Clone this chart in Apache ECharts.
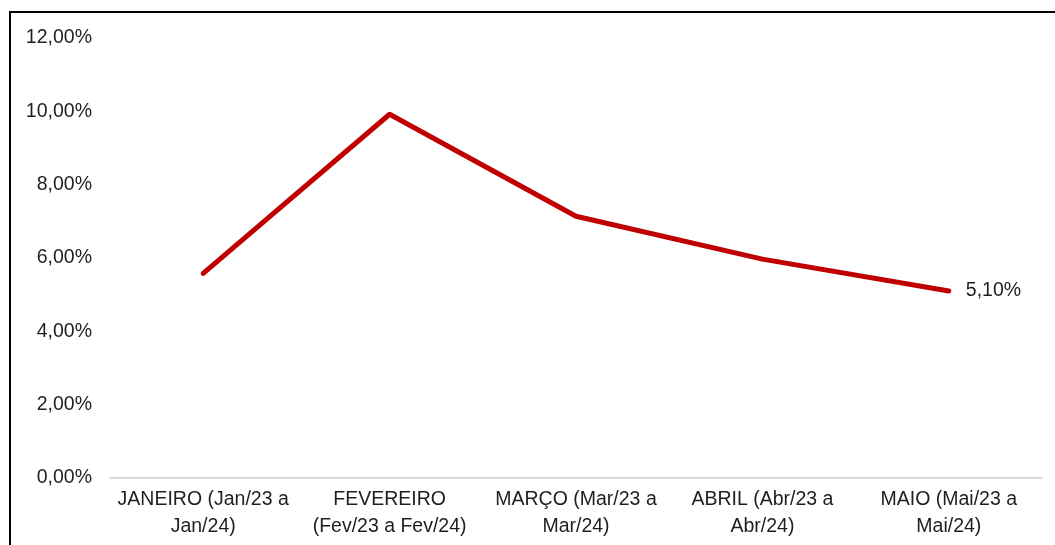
<!DOCTYPE html>
<html>
<head>
<meta charset="utf-8">
<script src="https://cdn.jsdelivr.net/npm/echarts@6/dist/echarts.min.js"></script>
<style>
  html, body { margin: 0; padding: 0; background: #fff; }
  #wrap { position: relative; width: 1055px; height: 545px; overflow: hidden; }
  #chart { position: absolute; left: 0; top: 0; width: 1055px; height: 545px; }
  #frame { position: absolute; left: 9px; top: 11px; width: 1100px; height: 600px;
           border: 2px solid #000; pointer-events: none; box-sizing: border-box; }
</style>
</head>
<body>
<div id="wrap">
  <div id="chart"></div>
  <div id="frame"></div>
</div>
<script>
// Monthly 12-month accumulated rate
const categories = [
  'JANEIRO (Jan/23 a\nJan/24)',
  'FEVEREIRO\n(Fev/23 a Fev/24)',
  'MARÇO (Mar/23 a\nMar/24)',
  'ABRIL (Abr/23 a\nAbr/24)',
  'MAIO (Mai/23 a\nMai/24)'
];
const rates = [5.58, 9.92, 7.14, 5.97, 5.10];
const yTicks = { min: 0, max: 12, interval: 2 };

const fmtPct = v => v.toFixed(2).replace('.', ',') + '%';
const textColor = '#1f1f1f';
const fontFamily = '"Liberation Sans", Arial, sans-serif';

const chart = echarts.init(document.getElementById('chart'), null, { renderer: 'canvas' });
chart.setOption({
  animation: false,
  backgroundColor: '#fff',
  grid: { left: 110, right: 13, top: 38, bottom: 67, containLabel: false },
  xAxis: {
    type: 'category',
    data: categories,
    boundaryGap: true,
    axisLine: { show: true, lineStyle: { color: '#d9d9d9', width: 2 } },
    axisTick: { show: false },
    axisLabel: {
      color: textColor, fontFamily, fontSize: 19.5, lineHeight: 27,
      margin: 8, interval: 0, align: 'center'
    },
    splitLine: { show: false }
  },
  yAxis: {
    type: 'value',
    min: yTicks.min, max: yTicks.max, interval: yTicks.interval,
    axisLine: { show: false },
    axisTick: { show: false },
    splitLine: { show: false },
    axisLabel: {
      color: textColor, fontFamily, fontSize: 19.5, margin: 18,
      formatter: v => fmtPct(v)
    }
  },
  series: [{
    type: 'line',
    data: rates,
    symbol: 'none',
    lineStyle: { color: '#C00000', width: 5, cap: 'round', join: 'round' },
    itemStyle: { color: '#C00000' },
    // value of the last month written next to the line end
    endLabel: {
      show: true, distance: 17,
      color: textColor, fontFamily, fontSize: 19.5,
      formatter: p => fmtPct(p.value)
    }
  }]
});
</script>
</body>
</html>
